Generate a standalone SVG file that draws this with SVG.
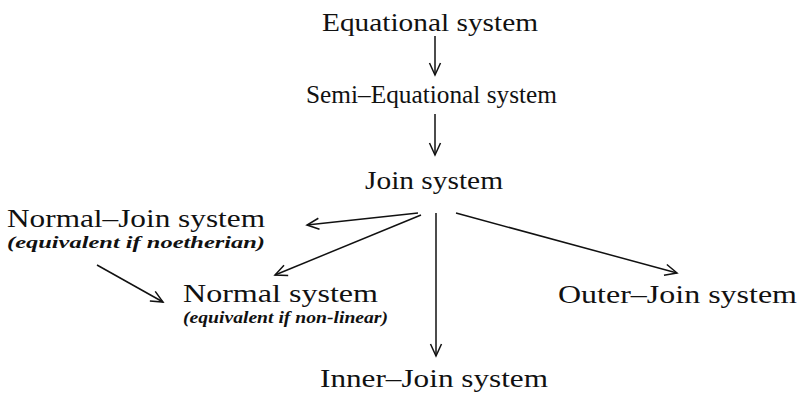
<svg xmlns="http://www.w3.org/2000/svg" width="801" height="395" viewBox="0 0 801 395">
<style>
.t{font-family:"Liberation Serif","Times New Roman",serif;font-size:25px;fill:#111}
.i{font-family:"Liberation Serif","Times New Roman",serif;font-size:17px;font-style:italic;font-weight:bold;fill:#111}
.c{stroke:#111;stroke-width:1.5;fill:none}
</style>
<defs>
<marker id="ah" markerUnits="userSpaceOnUse" markerWidth="16" markerHeight="14" refX="13" refY="7" orient="auto">
<path d="M1,1.5 L13,7 L1,12.5" fill="none" stroke="#111" stroke-width="1.5"/>
</marker>
</defs>
<g id="n-equational"><text class="t" x="322" y="31" textLength="216" lengthAdjust="spacingAndGlyphs">Equational system</text></g>
<g id="n-semi"><text class="t" x="306" y="103" textLength="251" lengthAdjust="spacingAndGlyphs">Semi–Equational system</text></g>
<g id="n-join"><text class="t" x="365" y="189" textLength="138" lengthAdjust="spacingAndGlyphs">Join system</text></g>
<g id="n-normaljoin"><text class="t" x="7" y="227" textLength="258" lengthAdjust="spacingAndGlyphs">Normal–Join system</text><text class="i" x="7" y="248" textLength="258" lengthAdjust="spacingAndGlyphs">(equivalent if noetherian)</text></g>
<g id="n-normal"><text class="t" x="183" y="302" textLength="195" lengthAdjust="spacingAndGlyphs">Normal system</text><text class="i" x="183" y="323" textLength="205" lengthAdjust="spacingAndGlyphs">(equivalent if non-linear)</text></g>
<g id="n-outer"><text class="t" x="558" y="303" textLength="239" lengthAdjust="spacingAndGlyphs">Outer–Join system</text></g>
<g id="n-inner"><text class="t" x="320" y="387" textLength="228" lengthAdjust="spacingAndGlyphs">Inner–Join system</text></g>
<g id="connectors">
<line class="c" x1="435" y1="36" x2="435" y2="75" marker-end="url(#ah)"/>
<line class="c" x1="435" y1="114" x2="435" y2="155" marker-end="url(#ah)"/>
<line class="c" x1="418" y1="213" x2="307" y2="225" marker-end="url(#ah)"/>
<line class="c" x1="421" y1="215" x2="275" y2="275" marker-end="url(#ah)"/>
<line class="c" x1="97" y1="265" x2="163" y2="302" marker-end="url(#ah)"/>
<line class="c" x1="436" y1="213" x2="436" y2="356" marker-end="url(#ah)"/>
<line class="c" x1="456" y1="213" x2="677" y2="273" marker-end="url(#ah)"/>
</g>
</svg>
